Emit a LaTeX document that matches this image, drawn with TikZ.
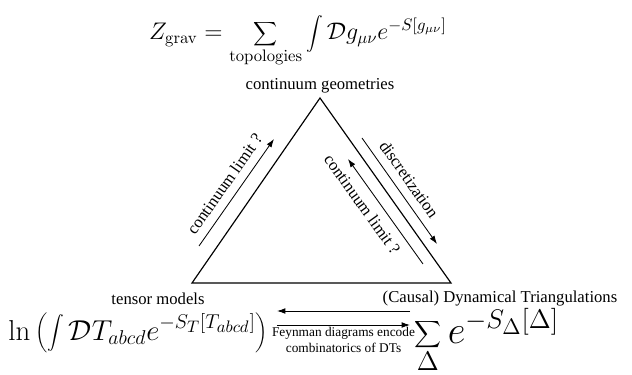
\documentclass[tikz,border=0pt]{standalone}
\usepackage[no-math]{fontspec}
\setmainfont{Liberation Serif}
\usetikzlibrary{arrows.meta, positioning, calc}

\begin{document}
\begin{tikzpicture}[
      x=0.6pt, y=-0.6pt,
      node distance=2pt and 2pt,
      arrow/.style={-{Latex[length=5pt, width=3.4pt]}, line width=0.5pt},
      revarrow/.style={{Latex[length=5pt, width=3.4pt]}-, line width=0.5pt},
      side/.style={line width=0.7pt},
      label/.style={font=\normalsize, inner sep=2pt},
      formula/.style={inner sep=0pt}
  ]
  \useasboundingbox (0,0) rectangle (632,375);

  % corners of the triangle
  \coordinate (top)   at (320,98);
  \coordinate (left)  at (192,283);
  \coordinate (right) at (451,283);

  \draw[side] (top) -- (left) -- (right) -- cycle;

  % corner labels
  \node[label, above=1pt of top] (geom) {continuum geometries};
  \node[label] (tensor) at (158,299) {tensor models};
  \node[label] (cdt) at (500,299) {(Causal) Dynamical Triangulations};

  % formulas
  \node[formula] (zgrav) at (298,41)
      {\Large$\displaystyle Z_{\rm grav}=\sum_{\rm topologies}\int\mathcal{D}g_{\mu\nu}e^{-S[g_{\mu\nu}]}$};
  \node[formula, anchor=west] (tensint) at (8,333)
      {\LARGE$\displaystyle \ln\left(\int\mathcal{D}T_{abcd}e^{-S_T[T_{abcd}]}\right)$};
  \node[formula, anchor=base west, scale=1.12] (dtsum) at (414,344)
      {\huge$\displaystyle \sum_{\Delta}e^{-S_\Delta[\Delta]}$};

  % arrows along the sides
  \coordinate (l1) at (199,246);
  \coordinate (l2) at (274,139);
  \coordinate (r1) at (348,159);
  \coordinate (r2) at (423,264);
  \coordinate (d1) at (362,138);
  \coordinate (d2) at (437,244);

  \draw[arrow] (l1) -- node[label, sloped, above=3pt, pos=0.5]{continuum limit ?} (l2);
  \draw[revarrow] (r1) -- node[label, sloped, below=3pt, pos=0.35]{continuum limit ?} (r2);
  \draw[arrow] (d1) -- node[label, sloped, above=3pt, pos=0.47]{discretization} (d2);

  % arrows between the two formulas
  \coordinate (b1) at (277,311);
  \coordinate (b2) at (410,311);
  \coordinate (b3) at (277,325);
  \coordinate (b4) at (410,325);

  \draw[arrow] (b2) -- (b1);
  \draw[arrow] (b3) -- (b4);
  \node[label, font=\footnotesize, align=center, below=0pt of $(b3)!0.5!(b4)$, inner sep=1pt] (feyn)
      {Feynman diagrams encode\\combinatorics of DTs};

\end{tikzpicture}
\end{document}
